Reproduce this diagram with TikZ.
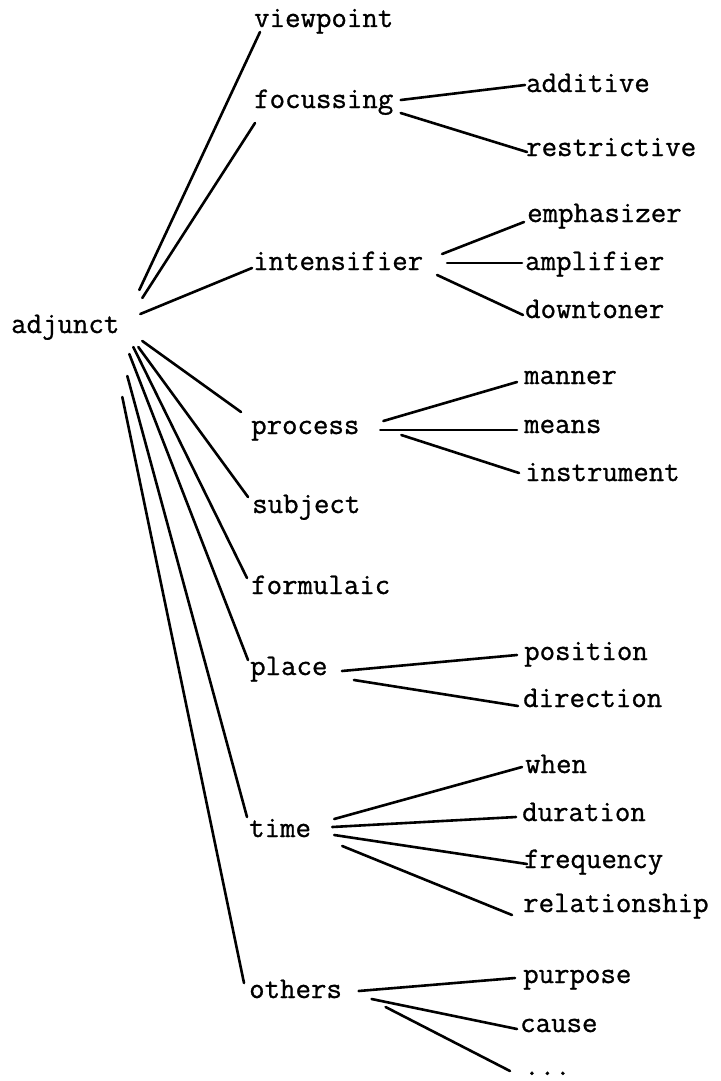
\documentclass[tikz,border=0pt]{standalone}
\usepackage{fontspec}
\newfontfamily\twfont{Latin Modern Mono}[FakeBold=0.9]
\begin{document}
\begin{tikzpicture}[x=1pt,y=-1pt,
  lbl/.style={anchor=base west,inner sep=0pt,font=\fontsize{30}{36}\selectfont\twfont},
  branch/.style={line width=2.6pt,line cap=round}]
\fill[white] (0,0) rectangle (720,1081);
\useasboundingbox (0,0) rectangle (720,1081);

% root
\node[lbl] (adj) at (11,333) {adjunct};

% first level
\node[lbl] (vp)   at (254,27)  {viewpoint};
\node[lbl] (foc)  at (254,108) {focussing};
\node[lbl] (int)  at (253,270) {intensifier};
\node[lbl] (proc) at (251,434) {process};
\node[lbl] (subj) at (252,513) {subject};
\node[lbl] (form) at (251,594) {formulaic};
\node[lbl] (plc)  at (250,675) {place};
\node[lbl] (tim)  at (249,837) {time};
\node[lbl] (oth)  at (249,998) {others};

% second level
\node[lbl] (add)   at (526,92)   {additive};
\node[lbl] (restr) at (526,156)  {restrictive};
\node[lbl] (emph)  at (527,222)  {emphasizer};
\node[lbl] (ampl)  at (525,270)  {amplifier};
\node[lbl] (down)  at (525,318)  {downtoner};
\node[lbl] (mann)  at (524,384)  {manner};
\node[lbl] (mean)  at (524,433)  {means};
\node[lbl] (inst)  at (525,481)  {instrument};
\node[lbl] (posn)  at (524,660)  {position};
\node[lbl] (dirn)  at (523,707)  {direction};
\node[lbl] (when)  at (525,773)  {when};
\node[lbl] (dur)   at (522,821)  {duration};
\node[lbl] (freq)  at (524,868)  {frequency};
\node[lbl] (rel)   at (523,912)  {relationship};
\node[lbl] (purp)  at (523,983)  {purpose};
\node[lbl] (cause) at (520,1032) {cause};
\node[lbl] (more)  at (524,1075) {...};

% root fan
\draw[branch] ([shift={(19.75,-43)}]adj.base east) -- ([shift={(6,5)}]vp.base west);
\draw[branch] ([shift={(22.75,-35)}]adj.base east) -- ([shift={(1,15)}]foc.base west);
\draw[branch] ([shift={(20.75,-19)}]adj.base east) -- ([shift={(-1,-2)}]int.base west);
\draw[branch] ([shift={(22.75,8)}]adj.base east)   -- ([shift={(-10,-22)}]proc.base west);
\draw[branch] ([shift={(18.75,14)}]adj.base east)  -- ([shift={(-4,-16)}]subj.base west);
\draw[branch] ([shift={(13.75,14)}]adj.base east)  -- ([shift={(-4,-16)}]form.base west);
\draw[branch] ([shift={(9.75,21)}]adj.base east)   -- ([shift={(-2,-15)}]plc.base west);
\draw[branch] ([shift={(7.75,43)}]adj.base east)   -- ([shift={(-2,-20)}]tim.base west);
\draw[branch] ([shift={(2.75,64)}]adj.base east)   -- ([shift={(-5,-15)}]oth.base west);

% focussing
\draw[branch] ([shift={(7.25,-8)}]foc.base east) -- ([shift={(-1,-7)}]add.base west);
\draw[branch] ([shift={(7.25,5)}]foc.base east)  -- ([shift={(1,-4)}]restr.base west);

% intensifier
\draw[branch] ([shift={(18.75,-16)}]int.base east) -- ([shift={(-3,0)}]emph.base west);
\draw[branch] ([shift={(23.75,-7)}]int.base east)  -- ([shift={(-3,-7)}]ampl.base west);
\draw[branch] ([shift={(13.75,5)}]int.base east)   -- ([shift={(-2,-3)}]down.base west);

% process
\draw[branch] ([shift={(23.75,-13)}]proc.base east) -- ([shift={(-7,-2)}]mann.base west);
\draw[branch] ([shift={(20.75,-4)}]proc.base east)  -- ([shift={(-7,-3)}]mean.base west);
\draw[branch] ([shift={(41.75,1)}]proc.base east)   -- ([shift={(-6,-8)}]inst.base west);

% place
\draw[branch] ([shift={(14.25,-4)}]plc.base east) -- ([shift={(-7,-5)}]posn.base west);
\draw[branch] ([shift={(26.25,5)}]plc.base east)  -- ([shift={(-5,-1)}]dirn.base west);

% time
\draw[branch] ([shift={(23,-18)}]tim.base east) -- ([shift={(-3,-6)}]when.base west);
\draw[branch] ([shift={(21,-10)}]tim.base east) -- ([shift={(-6,-4)}]dur.base west);
\draw[branch] ([shift={(23,-2)}]tim.base east)  -- ([shift={(3,-4)}]freq.base west);
\draw[branch] ([shift={(31,9)}]tim.base east)   -- ([shift={(-11,3)}]rel.base west);

% others
\draw[branch] ([shift={(16.5,-7)}]oth.base east) -- ([shift={(-8,-5)}]purp.base west);
\draw[branch] ([shift={(29.5,1)}]oth.base east)  -- ([shift={(-3,-3)}]cause.base west);
\draw[branch] ([shift={(43.5,9)}]oth.base east)  -- ([shift={(-14,-4)}]more.base west);
\end{tikzpicture}
\end{document}
